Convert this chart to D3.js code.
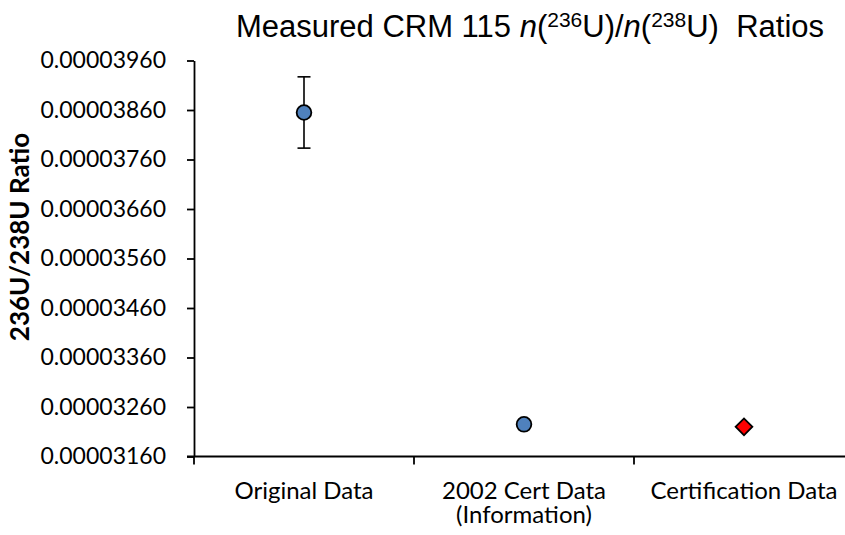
<!DOCTYPE html>
<meta charset="utf-8">
<style>
    html, body {
        margin: 0;
        padding: 0;
        background: #fff;
    }

    .axis path, .axis line {
        stroke: #000;
        stroke-width: 1.8px;
    }

    .axis text {
        font: 23px Lato, sans-serif;
        fill: #000;
    }

    .cat-label {
        font: 24px Lato, sans-serif;
        fill: #000;
    }

    .y-title {
        font: bold 26px Lato, sans-serif;
        fill: #000;
    }

    .title {
        font: 31px "Liberation Sans", Arial, sans-serif;
        fill: #000;
        white-space: pre;
    }

    .errbar {
        stroke: #000;
        stroke-width: 1.6px;
    }

    .marker {
        stroke: #000;
        stroke-width: 1.8px;
    }
</style>
<body>
<div id="chart"></div>
<script src="https://cdnjs.cloudflare.com/ajax/libs/d3/7.8.5/d3.min.js"></script>
<script>
    // data
    var categories = ["Original Data", "2002 Cert Data\n(Information)", "Certification Data"];
    var ratioValues = [0.00003855, 0.00003225, 0.00003220];
    var ratioErrors = [0.00000072, 0, 0];
    var markerShapes = ["circle", "circle", "diamond"];
    var markerColors = ["#4F81BD", "#4F81BD", "#FF0000"];
    var yTicks = [0.0000316, 0.0000326, 0.0000336, 0.0000346, 0.0000356,
                  0.0000366, 0.0000376, 0.0000386, 0.0000396];

    var width = 845, height = 535;
    var plotLeft = 194, plotRight = 854, plotTop = 60.5, plotBottom = 456.5;

    var svg = d3.select("#chart").append("svg")
        .attr("width", width)
        .attr("height", height);

    var x = d3.scaleBand()
        .domain(categories)
        .range([plotLeft, plotRight])
        .padding(0);

    var y = d3.scaleLinear()
        .domain([yTicks[0], yTicks[yTicks.length - 1]])
        .range([plotBottom, plotTop]);

    // y axis
    var yAxis = d3.axisLeft(y)
        .tickValues(yTicks)
        .tickSize(7)
        .tickSizeOuter(0)
        .tickPadding(21)
        .tickFormat(function(d) { return d.toFixed(8); });

    svg.append("g")
        .attr("class", "axis axis--y")
        .attr("transform", "translate(" + plotLeft + ",0)")
        .call(yAxis);

    // x axis: line plus ticks at category boundaries
    var xAxis = svg.append("g").attr("class", "axis axis--x");
    xAxis.append("line")
        .attr("x1", plotLeft - 7).attr("x2", plotRight)
        .attr("y1", plotBottom).attr("y2", plotBottom);
    xAxis.selectAll(".xtick")
        .data(categories)
        .enter().append("line")
        .attr("class", "xtick")
        .attr("x1", function(d) { return x(d); })
        .attr("x2", function(d) { return x(d); })
        .attr("y1", plotBottom)
        .attr("y2", plotBottom + 8);

    // category labels
    var labels = svg.selectAll(".cat-label")
        .data(categories)
        .enter().append("text")
        .attr("class", "cat-label")
        .attr("text-anchor", "middle")
        .attr("x", function(d) { return x(d) + x.bandwidth() / 2; })
        .attr("y", 499);
    labels.each(function(d) {
        var t = d3.select(this);
        d.split("\n").forEach(function(line, i) {
            t.append("tspan")
                .attr("x", x(d) + x.bandwidth() / 2)
                .attr("dy", i === 0 ? 0 : 24)
                .text(line);
        });
    });

    // error bars
    var points = categories.map(function(c, i) {
        return {cat: c, value: ratioValues[i], err: ratioErrors[i],
                shape: markerShapes[i], color: markerColors[i]};
    });

    var capW = 6.5;
    var eb = svg.selectAll(".errbar-g")
        .data(points.filter(function(d) { return d.err > 0; }))
        .enter().append("g")
        .attr("class", "errbar-g");
    eb.append("line")
        .attr("class", "errbar")
        .attr("x1", function(d) { return x(d.cat) + x.bandwidth() / 2; })
        .attr("x2", function(d) { return x(d.cat) + x.bandwidth() / 2; })
        .attr("y1", function(d) { return y(d.value + d.err); })
        .attr("y2", function(d) { return y(d.value - d.err); });
    [1, -1].forEach(function(s) {
        eb.append("line")
            .attr("class", "errbar")
            .attr("x1", function(d) { return x(d.cat) + x.bandwidth() / 2 - capW; })
            .attr("x2", function(d) { return x(d.cat) + x.bandwidth() / 2 + capW; })
            .attr("y1", function(d) { return y(d.value + s * d.err); })
            .attr("y2", function(d) { return y(d.value + s * d.err); });
    });

    // markers
    svg.selectAll(".marker")
        .data(points)
        .enter().append("path")
        .attr("class", "marker")
        .attr("fill", function(d) { return d.color; })
        .attr("d", function(d) {
            if (d.shape === "diamond") return d3.symbol().type(d3.symbolSquare).size(140)();
            return d3.symbol().type(d3.symbolCircle).size(170)();
        })
        .attr("transform", function(d) {
            var t = "translate(" + (x(d.cat) + x.bandwidth() / 2) + "," + y(d.value) + ")";
            return d.shape === "diamond" ? t + " rotate(45)" : t;
        });

    // y axis title
    svg.append("text")
        .attr("class", "y-title")
        .attr("text-anchor", "middle")
        .attr("transform", "translate(29,237) rotate(-90)")
        .text("236U/238U Ratio");

    // chart title with italic n and superscripts
    var title = svg.append("text")
        .attr("class", "title")
        .attr("text-anchor", "middle")
        .attr("x", 530)
        .attr("y", 37);
    title.append("tspan").text("Measured CRM 115 ");
    title.append("tspan").style("font-style", "italic").text("n");
    title.append("tspan").text("(");
    title.append("tspan").attr("dy", -10).style("font-size", "21px").text("236");
    title.append("tspan").attr("dy", 10).text("U)/");
    title.append("tspan").style("font-style", "italic").text("n");
    title.append("tspan").text("(");
    title.append("tspan").attr("dy", -10).style("font-size", "21px").text("238");
    title.append("tspan").attr("dy", 10).text("U)  Ratios");
</script>
</body>
